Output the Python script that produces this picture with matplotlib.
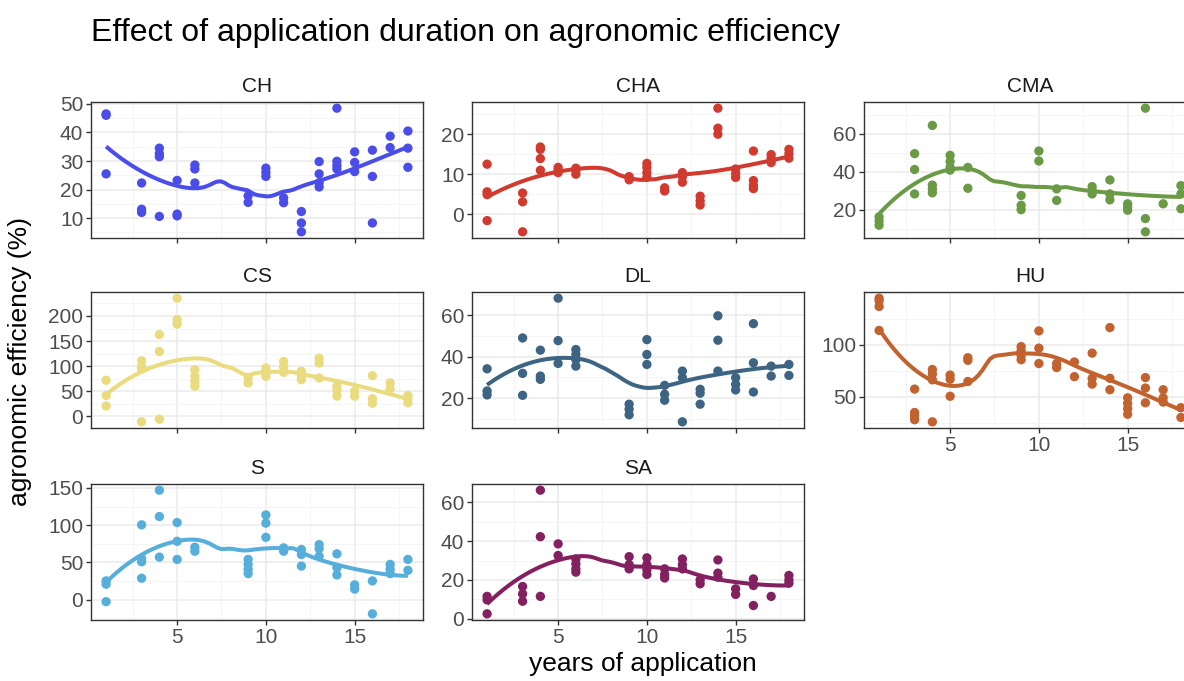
import numpy as np
import matplotlib.pyplot as plt
from matplotlib.ticker import MultipleLocator

plt.rcParams['font.family'] = ['Liberation Sans', 'DejaVu Sans']

# agronomic efficiency (%) per site, by years of application
ch_years = [1, 1, 1, 3, 3, 3, 4, 4, 4, 4, 5, 5, 5, 6, 6, 6, 9, 9, 10, 10, 10, 11, 11,
            12, 12, 12, 13, 13, 13, 13, 14, 14, 14, 14, 15, 15, 15, 16, 16, 16, 17, 17,
            18, 18, 18]
ch_ae = [46.5, 46.0, 25.5, 22.3, 13.1, 12.0, 34.5, 32.6, 31.5, 10.6, 23.2, 11.4, 10.8,
         28.6, 27.2, 22.3, 17.8, 15.5, 27.5, 26.0, 24.6, 17.1, 15.4, 12.3, 8.3, 5.2,
         29.8, 25.5, 22.4, 20.9, 48.5, 29.9, 28.4, 27.2, 33.2, 29.5, 26.3, 33.8, 24.6,
         8.3, 38.7, 34.7, 40.5, 34.5, 27.8]

cha_years = [1, 1, 1, 1, 3, 3, 3, 4, 4, 4, 4, 5, 5, 5, 6, 6, 6, 9, 9, 10, 10, 10, 10,
             11, 11, 12, 12, 12, 13, 13, 13, 14, 14, 14, 15, 15, 15, 16, 16, 16, 16,
             17, 17, 17, 18, 18, 18]
cha_ae = [12.5, 5.6, 4.9, -1.6, 5.3, 3.1, -4.4, 16.8, 16.2, 13.9, 11.0, 11.7, 11.0, 10.4,
          11.5, 10.9, 10.0, 9.4, 8.6, 12.7, 11.7, 10.4, 9.2, 6.6, 5.8, 10.4, 9.4, 8.0,
          4.5, 3.3, 2.3, 26.5, 21.5, 20.0, 11.3, 10.2, 9.2, 15.8, 8.4, 7.2, 6.4,
          14.9, 14.0, 12.9, 16.2, 15.1, 14.0]

cma_years = [1, 1, 1, 3, 3, 3, 4, 4, 4, 4, 5, 5, 5, 5, 6, 6, 9, 9, 9, 10, 10, 11, 11,
             13, 13, 13, 14, 14, 14, 15, 15, 15, 16, 16, 16, 17, 18, 18, 18]
cma_ae = [16.2, 14.1, 11.8, 49.6, 41.2, 28.3, 64.5, 33.0, 30.9, 28.9, 48.7, 45.4, 42.3,
          40.9, 42.3, 31.3, 27.5, 22.3, 20.0, 51.0, 45.7, 31.0, 24.9, 32.2, 30.1, 28.3,
          35.7, 28.3, 25.2, 23.1, 21.4, 19.7, 73.6, 15.3, 8.3, 23.1, 32.7, 28.3, 20.5]

cs_years = [1, 1, 1, 3, 3, 3, 3, 4, 4, 4, 5, 5, 5, 6, 6, 6, 6, 9, 9, 10, 10, 10, 11, 11,
            11, 12, 12, 12, 13, 13, 13, 14, 14, 14, 15, 15, 16, 16, 16, 17, 17, 18, 18,
            18]
cs_ae = [71.7, 41.4, 20.4, 110.5, 99.3, 94.0, -11.2, 163.0, 129.0, -6.0, 235.5, 192.8,
         183.6, 92.8, 79.6, 69.7, 59.9, 76.3, 66.4, 96.0, 86.2, 79.6, 109.2, 98.0, 87.5,
         89.5, 80.9, 73.0, 115.8, 106.0, 76.3, 59.9, 52.0, 40.1, 50.0, 40.1, 80.9, 34.9,
         25.7, 66.4, 54.6, 41.4, 34.9, 27.0]

dl_years = [1, 1, 1, 3, 3, 3, 4, 4, 4, 5, 5, 5, 6, 6, 6, 6, 9, 9, 9, 10, 10, 10, 11, 11,
            11, 12, 12, 12, 13, 13, 13, 14, 14, 14, 15, 15, 15, 16, 16, 16, 17, 17, 18,
            18]
dl_ae = [34.2, 23.5, 21.6, 49.1, 32.0, 21.4, 43.2, 30.7, 29.1, 68.3, 47.8, 36.8, 43.5,
         41.1, 38.7, 35.5, 17.1, 14.7, 12.0, 48.3, 41.1, 36.3, 26.2, 21.9, 19.0, 33.1,
         29.9, 8.6, 24.3, 22.4, 17.1, 59.8, 48.0, 33.1, 29.9, 26.7, 24.0, 56.0, 37.1,
         23.0, 35.5, 30.7, 36.3, 31.0]

hu_years = [1, 1, 1, 1, 3, 3, 3, 3, 4, 4, 4, 4, 5, 5, 5, 6, 6, 6, 9, 9, 9, 9, 10, 10,
            10, 11, 11, 12, 12, 13, 13, 13, 14, 14, 14, 15, 15, 15, 15, 16, 16, 16, 17,
            17, 17, 18, 18]
hu_ae = [145.0, 142.5, 137.0, 114.0, 57.5, 35.0, 31.8, 28.0, 76.4, 72.0, 66.4, 26.0,
         71.0, 67.0, 50.6, 87.7, 85.2, 64.8, 98.4, 94.7, 89.9, 85.8, 113.5, 96.9, 82.1,
         82.1, 78.3, 83.6, 69.5, 92.1, 67.9, 62.3, 116.7, 67.9, 56.9, 49.1, 43.7, 38.7,
         33.3, 68.6, 58.5, 44.3, 56.9, 49.1, 45.0, 39.6, 30.2]

s_years = [1, 1, 1, 3, 3, 3, 3, 4, 4, 4, 5, 5, 5, 6, 6, 9, 9, 9, 9, 10, 10, 10, 11, 11,
           12, 12, 12, 13, 13, 13, 14, 14, 14, 15, 15, 16, 16, 17, 17, 17, 18, 18]
s_ae = [25.2, 20.8, -2.7, 100.4, 55.3, 50.9, 28.8, 146.9, 111.5, 57.1, 103.5, 78.3, 54.0,
        70.4, 65.0, 54.0, 47.3, 40.7, 35.0, 113.7, 102.7, 83.6, 69.5, 65.0, 67.3, 60.6,
        45.1, 73.9, 68.6, 58.4, 61.5, 42.9, 33.2, 19.9, 14.2, 25.2, -19.0, 47.3, 40.7,
        35.0, 54.0, 39.4]

sa_years = [1, 1, 1, 3, 3, 3, 4, 4, 4, 5, 5, 6, 6, 6, 6, 9, 9, 9, 10, 10, 10, 10, 11,
            11, 11, 12, 12, 12, 13, 13, 14, 14, 14, 15, 15, 16, 16, 16, 17, 18, 18, 18]
sa_ae = [11.5, 9.7, 2.5, 16.6, 12.8, 9.0, 66.3, 42.3, 11.5, 38.6, 32.6, 30.8, 28.3, 25.7,
         24.0, 32.0, 27.9, 25.7, 31.4, 27.9, 25.2, 22.8, 25.7, 22.8, 21.0, 30.8, 27.9,
         25.7, 20.0, 18.0, 30.3, 23.5, 21.4, 15.4, 12.5, 20.5, 17.1, 6.8, 11.5, 22.3,
         20.0, 18.3]

sites = ['CH', 'CHA', 'CMA', 'CS', 'DL', 'HU', 'S', 'SA']
site_years = [ch_years, cha_years, cma_years, cs_years, dl_years, hu_years, s_years, sa_years]
site_ae = [ch_ae, cha_ae, cma_ae, cs_ae, dl_ae, hu_ae, s_ae, sa_ae]
site_colors = ['#4B4DE8', '#D03A2F', '#6B9A47', '#EADB7E', '#3D6482', '#C1622F',
               '#56AEDA', '#83205F']
y_ticks = [[10, 20, 30, 40, 50], [0, 10, 20], [20, 40, 60], [0, 50, 100, 150, 200],
           [20, 40, 60], [50, 100], [0, 50, 100, 150], [0, 20, 40, 60]]
x_ticks = [5, 10, 15]


def loess(x, y, span=0.75, n=80):
    """local quadratic fit with tricube weights (like R's loess defaults)"""
    x = np.asarray(x, float)
    y = np.asarray(y, float)
    grid = np.linspace(x.min(), x.max(), n)
    q = int(np.floor(len(x) * span))
    fit = []
    for x0 in grid:
        d = np.abs(x - x0)
        dmax = np.sort(d)[q - 1]
        w = np.clip(1 - (d / dmax) ** 3, 0, None) ** 3
        X = np.column_stack([np.ones_like(x), x - x0, (x - x0) ** 2])
        sw = np.sqrt(w)
        beta = np.linalg.lstsq(X * sw[:, None], y * sw, rcond=None)[0]
        fit.append(beta[0])
    return grid, np.array(fit)


W, H = 1184, 681
fig = plt.figure(figsize=(W / 100, H / 100), dpi=100)

col_left = [91, 472, 864]
row_top = [102, 292, 484]
pw, ph = 332, 136

for i, site in enumerate(sites):
    r, c = divmod(i, 3)
    ax = fig.add_axes([col_left[c] / W, 1 - (row_top[r] + ph) / H, pw / W, ph / H])
    xs = np.array(site_years[i])
    ys = np.array(site_ae[i])
    col = site_colors[i]

    ax.scatter(xs, ys, s=45, color=col, edgecolors='none', zorder=3)
    gx, gy = loess(xs, ys)
    ax.plot(gx, gy, color=col, lw=2.9, zorder=4, solid_capstyle='butt')

    ax.set_xlim(0.15, 18.85)
    lo, hi = ys.min(), ys.max()
    pad = (hi - lo) * 0.05
    ax.set_ylim(lo - pad, hi + pad)
    ax.set_xticks(x_ticks)
    ax.set_yticks(y_ticks[i])
    ax.xaxis.set_minor_locator(MultipleLocator(2.5))
    step = y_ticks[i][1] - y_ticks[i][0]
    ax.yaxis.set_minor_locator(MultipleLocator(step / 2))
    ax.grid(True, which='major', color='#EBEBEB', lw=1.1)
    ax.grid(True, which='minor', color='#F4F4F4', lw=0.6)
    ax.set_axisbelow(True)
    for sp in ax.spines.values():
        sp.set_color('#333333')
        sp.set_linewidth(1.0)
    ax.tick_params(which='major', length=3.5, width=1.0, color='#333333',
                   labelsize=15, labelcolor='#4D4D4D', pad=2)
    ax.tick_params(which='minor', length=0)

    # x labels only where no panel sits below
    if i + 3 < len(sites):
        ax.tick_params(axis='x', labelbottom=False)
    ax.set_title(site, fontsize=15, color='#1A1A1A', pad=7)

fig.text(91 / W, 1 - 33 / H, 'Effect of application duration on agronomic efficiency',
         fontsize=23, ha='left', va='center', color='black')
fig.text(643 / W, 1 - 664 / H, 'years of application', fontsize=19, ha='center',
         va='center', color='black')
fig.text(20 / W, 1 - 362 / H, 'agronomic efficiency (%)', fontsize=19, ha='center',
         va='center', rotation=90, color='black')

fig.savefig('out.png', dpi=100)
